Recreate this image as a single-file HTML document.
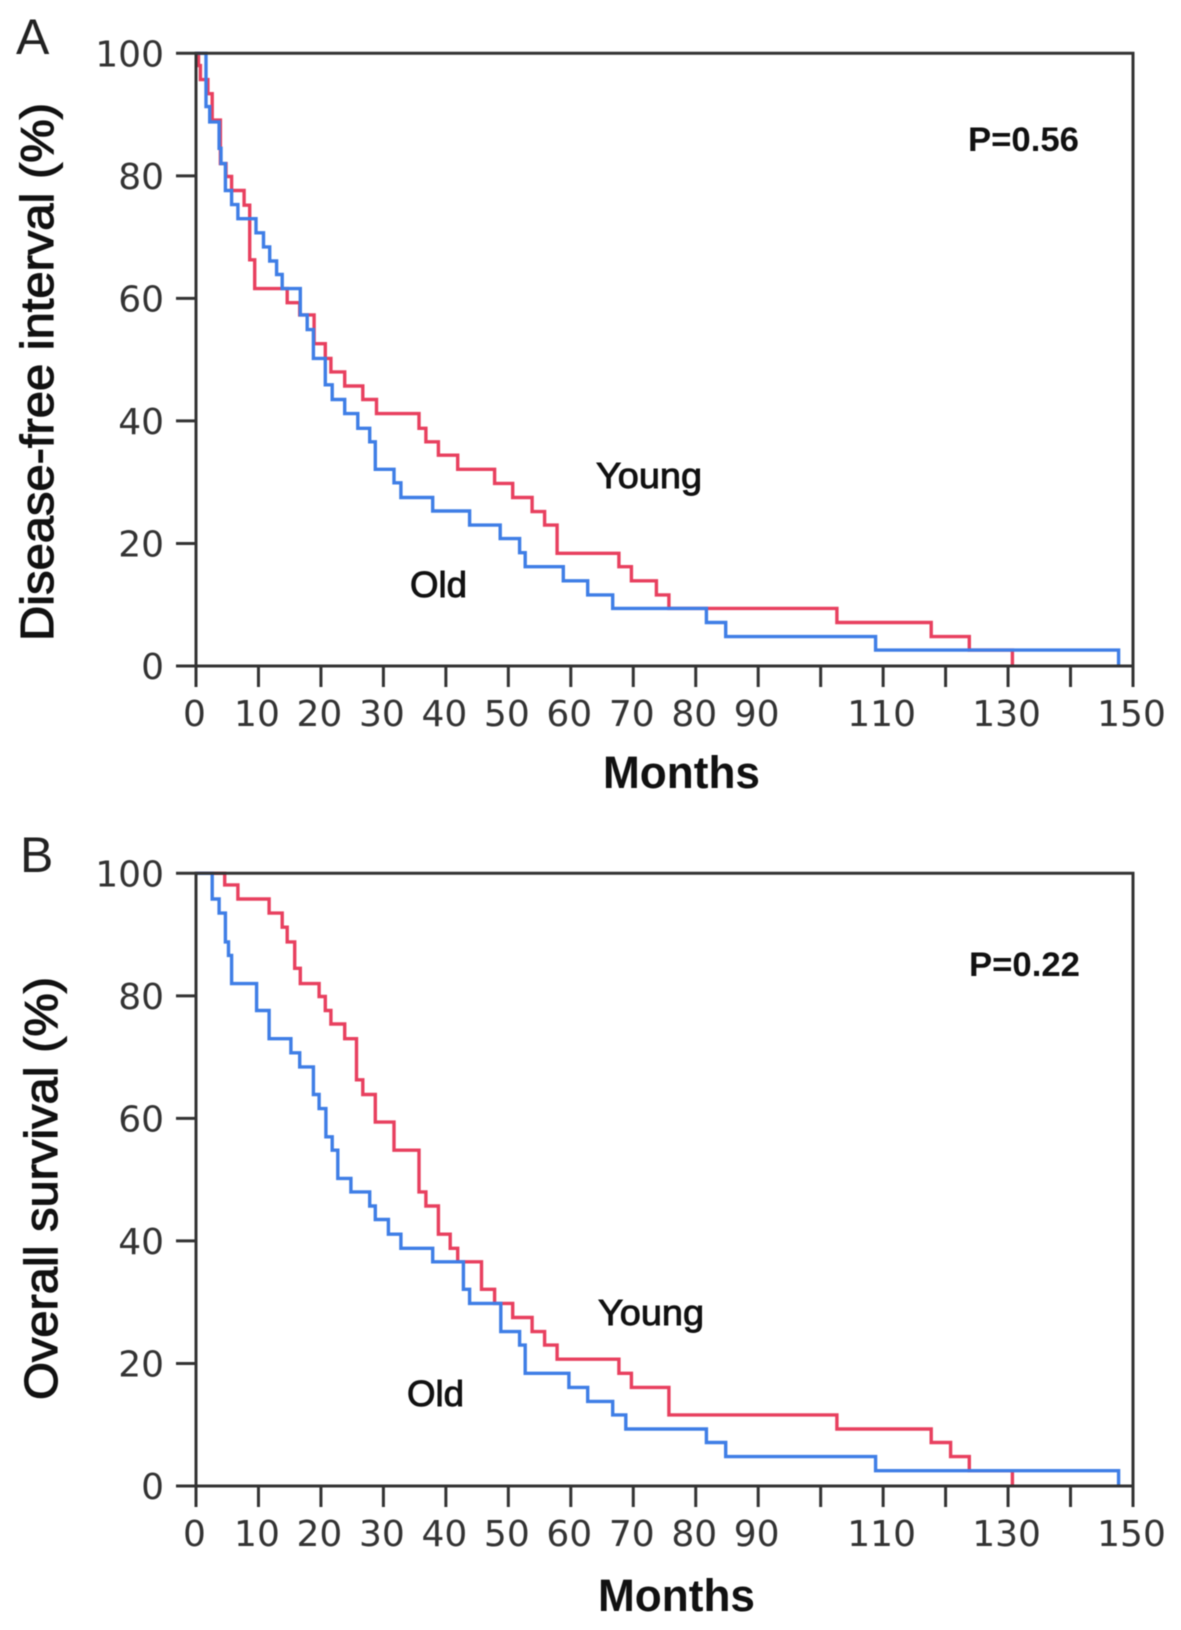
<!DOCTYPE html>
<html lang="en">
<head>
<meta charset="utf-8">
<title>Survival curves</title>
<style>
html,body{margin:0;padding:0;background:#fff;width:1181px;height:1630px;overflow:hidden}
svg{display:block;filter:blur(.45px)}
.tick-label{font-family:"DejaVu Sans",sans-serif;font-size:36px;fill:#333}
.axis-title{font-family:"Liberation Sans",sans-serif;fill:#111;stroke:#111;stroke-width:1.1px}
.note{font-family:"Liberation Sans",sans-serif;fill:#111}
</style>
</head>
<body>
<svg id="figure" xmlns="http://www.w3.org/2000/svg" width="1181" height="1630" viewBox="0 0 1181 1630">
  <rect width="1181" height="1630" fill="#fff"/>
  <text x="16" y="54" font-family="Liberation Sans, sans-serif" font-size="50" fill="#222">A</text>
  <text x="20" y="872" font-family="Liberation Sans, sans-serif" font-size="50" fill="#222">B</text>
  <text class="axis-title" transform="translate(53 641) rotate(-90)" font-size="46" textLength="538" lengthAdjust="spacingAndGlyphs">Disease-free interval (%)</text>
  <text class="axis-title" transform="translate(57 1400) rotate(-90)" font-size="46" textLength="423" lengthAdjust="spacingAndGlyphs">Overall survival (%)</text>
  <text class="axis-title" x="603" y="788" font-size="45" font-weight="700" style="stroke:none" textLength="157" lengthAdjust="spacingAndGlyphs">Months</text>
  <text class="axis-title" x="598" y="1611" font-size="45" font-weight="700" style="stroke:none" textLength="157" lengthAdjust="spacingAndGlyphs">Months</text>
  <text class="note" x="968" y="151" font-size="34" font-weight="700" textLength="111" lengthAdjust="spacingAndGlyphs">P=0.56</text>
  <text class="note" x="969" y="976" font-size="34" font-weight="700" textLength="111" lengthAdjust="spacingAndGlyphs">P=0.22</text>
  <text class="note" x="596" y="488" font-size="36" stroke="#111" stroke-width=".9" textLength="106" lengthAdjust="spacingAndGlyphs">Young</text>
  <text class="note" x="410" y="597" font-size="36" stroke="#111" stroke-width=".9" textLength="57" lengthAdjust="spacingAndGlyphs">Old</text>
  <text class="note" x="598" y="1325" font-size="36" stroke="#111" stroke-width=".9" textLength="106" lengthAdjust="spacingAndGlyphs">Young</text>
  <text class="note" x="407" y="1406" font-size="36" stroke="#111" stroke-width=".9" textLength="57" lengthAdjust="spacingAndGlyphs">Old</text>
</svg>
<script>
const xTickValues = [0,10,20,30,40,50,60,70,80,90,100,110,120,130,140,150];
const xTickLabels = ['0','10','20','30','40','50','60','70','80','90','','110','','130','','150'];
const yTickValues = [0,20,40,60,80,100];
const yTickLabels = ['0','20','40','60','80','100'];

const panelAYoungMonths = [0,0.4,0.7,1.9,2.6,3.9,4.8,5.7,7.7,8.6,9.4,14.6,16.6,18.9,20.7,21.6,23.8,26.7,28.9,35.7,36.8,38.8,41.9,47.8,50.7,53.8,55.8,57.8,67.7,69.7,73.7,75.7,102.6,117.7,123.8,130.7];
const panelAYoungSurvival = [100,98,95.7,93.4,89.1,82,79.9,77.6,75.2,66.3,61.6,59.3,57.3,52.6,50.2,48,45.7,43.5,41.2,38.8,36.6,34.4,32.1,29.8,27.5,25.2,23,18.4,16.2,13.9,11.6,9.4,7.1,4.8,2.6,0];

const panelAOldMonths = [0,1.6,2.2,3.7,4,4.7,5.7,6.7,9.6,10.8,11.8,12.9,13.8,16.7,17.8,18.8,20.7,21.8,23.8,25.9,27.8,28.7,31.7,32.8,37.9,43.8,48.7,51.8,52.7,58.8,62.7,66.7,81.7,84.8,108.8,147.7];
const panelAOldSurvival = [100,91.3,88.8,84.5,82,77.6,75.3,73,70.7,68.4,66.1,63.9,61.6,57.3,54.9,50.2,45.9,43.5,41.2,38.8,36.6,32.1,29.9,27.5,25.3,23,20.8,18.5,16.2,13.9,11.6,9.4,7.1,4.8,2.6,0];

const panelBYoungMonths = [0,4.6,6.7,11.7,13.8,14.6,15.8,16.7,19.7,20.7,21.6,23.8,25.7,26.7,28.7,31.7,35.7,36.8,38.8,40.7,41.9,45.7,47.8,50.7,53.8,55.8,57.8,67.7,69.7,75.7,102.6,117.7,120.8,123.8,130.7];
const panelBYoungSurvival = [100,98.1,95.8,93.5,91.2,88.8,84.5,82,79.9,77.6,75.4,73,66.3,63.9,59.4,54.8,48,45.7,41.1,38.8,36.6,32.1,29.8,27.5,25.2,23,20.7,18.4,16.1,11.6,9.3,7.1,4.8,2.5,0];

const panelBOldMonths = [0,2.6,3.7,4.7,5.2,5.7,9.7,11.7,15.2,16.6,18.8,19.7,20.8,21.8,22.7,24.8,27.8,28.7,30.8,32.8,37.9,42.8,43.8,48.8,51.8,52.7,59.7,62.7,66.7,68.8,81.7,84.8,108.8,147.7];
const panelBOldSurvival = [100,95.8,93.5,88.8,86.6,82,77.6,73,70.7,68.4,63.9,61.6,57,54.8,50.2,48,45.7,43.5,41.1,38.8,36.6,32.1,29.8,25.2,23,18.4,16.1,13.8,11.6,9.3,7.1,4.8,2.5,0];

const svgNS = 'http://www.w3.org/2000/svg';
const figure = document.getElementById('figure');
const plotLeft = 196, plotRight = 1133;

function make(tag) {
  return document.createElementNS(svgNS, tag);
}
function xScale(month) {
  return plotLeft + (month / 150) * (plotRight - plotLeft);
}
function stepPath(months, survival, yScale) {
  let d = 'M' + xScale(months[0]).toFixed(1) + ' ' + yScale(survival[0]).toFixed(1);
  for (let i = 1; i < months.length; i++) {
    d += 'H' + xScale(months[i]).toFixed(1) + 'V' + yScale(survival[i]).toFixed(1);
  }
  return d;
}
function drawPanel(prefix, yTop, yBottom, youngMonths, youngSurvival, oldMonths, oldSurvival) {
  const yScale = function (pct) { return yBottom - (pct / 100) * (yBottom - yTop); };
  const g = make('g');
  
  
  figure.appendChild(g);

  const young = make('path');
  
  
  young.setAttribute('d', stepPath(youngMonths, youngSurvival, yScale));
  young.setAttribute('fill', 'none');
  young.setAttribute('stroke', '#e8405f');
  young.setAttribute('stroke-width', '3.4');
  g.appendChild(young);

  const old = make('path');
  
  
  old.setAttribute('d', stepPath(oldMonths, oldSurvival, yScale));
  old.setAttribute('fill', 'none');
  old.setAttribute('stroke', '#3f7ee6');
  old.setAttribute('stroke-width', '3.4');
  g.appendChild(old);

  const frame = make('path');
  
  
  frame.setAttribute('d', 'M' + plotLeft + ' ' + yBottom + 'V' + yTop + 'H' + plotRight + 'V' + yBottom + 'H' + plotLeft);
  frame.setAttribute('fill', 'none');
  frame.setAttribute('stroke', '#333');
  frame.setAttribute('stroke-width', '3');
  g.appendChild(frame);

  xTickValues.forEach(function (v, i) {
    const tick = make('line');
    
    
    tick.setAttribute('x1', xScale(v));
    tick.setAttribute('x2', xScale(v));
    tick.setAttribute('y1', yBottom);
    tick.setAttribute('y2', yBottom + 21);
    tick.setAttribute('stroke', '#333');
    tick.setAttribute('stroke-width', '3');
    g.appendChild(tick);
    if (xTickLabels[i]) {
      const label = make('text');
      
      
      label.setAttribute('class', 'tick-label');
      label.setAttribute('x', xScale(v) - 1.5);
      label.setAttribute('y', yBottom + 60);
      label.setAttribute('text-anchor', 'middle');
      label.textContent = xTickLabels[i];
      g.appendChild(label);
    }
  });

  yTickValues.forEach(function (v, i) {
    const tick = make('line');
    
    
    tick.setAttribute('x1', plotLeft - 20);
    tick.setAttribute('x2', plotLeft);
    tick.setAttribute('y1', yScale(v));
    tick.setAttribute('y2', yScale(v));
    tick.setAttribute('stroke', '#333');
    tick.setAttribute('stroke-width', '3');
    g.appendChild(tick);
    const label = make('text');
    
    
    label.setAttribute('class', 'tick-label');
    label.setAttribute('x', 164);
    label.setAttribute('y', yScale(v) + 13);
    label.setAttribute('text-anchor', 'end');
    label.textContent = yTickLabels[i];
    g.appendChild(label);
  });
}
drawPanel('panel-a', 53.3, 666, panelAYoungMonths, panelAYoungSurvival, panelAOldMonths, panelAOldSurvival);
drawPanel('panel-b', 873.3, 1486, panelBYoungMonths, panelBYoungSurvival, panelBOldMonths, panelBOldSurvival);
</script>
</body>
</html>
